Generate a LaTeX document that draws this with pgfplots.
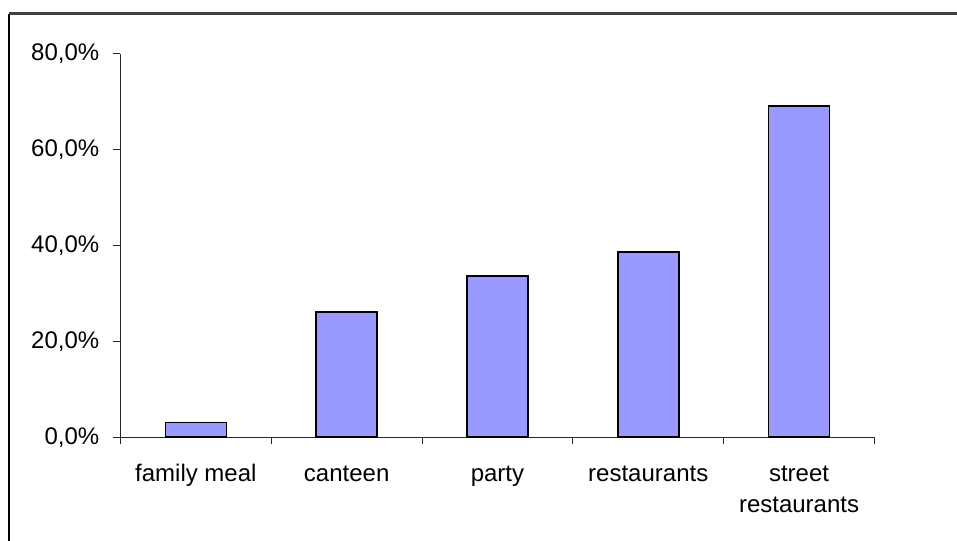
\documentclass[border=0pt]{standalone}
\usepackage{fontspec}
\setmainfont{Liberation Sans}
\usepackage{pgfplots}
\pgfplotsset{compat=1.18}

\definecolor{barblue}{HTML}{9999FF}
\definecolor{framegray}{HTML}{404040}

\begin{document}
\begin{tikzpicture}[font=\fontsize{18pt}{23.25pt}\selectfont]
% fixed canvas size
\useasboundingbox (0pt,0pt) rectangle (717.75pt,405.75pt);
\fill[white] (0pt,0pt) rectangle (717.75pt,405.75pt);
% outer chart frame (left and top edges)
\draw[black, line width=0.9pt] (6.75pt,-4pt) -- (6.75pt,395.6pt);
\draw[framegray, line width=1.6pt] (6.4pt,395.6pt) -- (722pt,395.6pt);
\begin{axis}[
  % the data origin (first category, 0%) sits at this canvas point
  at={(146.9pt,77.8pt)}, anchor=origin,
  scale only axis,
  width=565.5pt, height=287.7pt,
  xmin=-0.5, xmax=4.5, ymin=0, ymax=80,
  ybar, bar width=45.75pt,
  axis lines=left,
  axis line style={-, line width=0.75pt, black!85},
  tick align=outside,
  tick style={black!85, line width=0.75pt},
  major tick length=5.25pt,
  minor tick length=5.25pt,
  xtick={0,1,2,3,4},
  % struts give every category name the same baseline
  xticklabels={{\strut family meal}, {\strut canteen}, {\strut party},
               {\strut restaurants}, {\strut street\\restaurants}},
  major x tick style={draw=none},
  minor xtick={-0.5,0.5,1.5,2.5,3.5,4.5},
  xticklabel style={align=center, text depth=0pt, yshift=-7.9pt},
  ytick={0,20,40,60,80},
  yticklabels={{0,0\%},{20,0\%},{40,0\%},{60,0\%},{80,0\%}},
  yticklabel style={xshift=-7.1pt},
  clip=false,
]
\addplot[fill=barblue, draw=black, line width=1.2pt]
  coordinates {(0,3.1) (1,26.1) (2,33.6) (3,38.6) (4,69.1)};
\end{axis}
\end{tikzpicture}
\end{document}
